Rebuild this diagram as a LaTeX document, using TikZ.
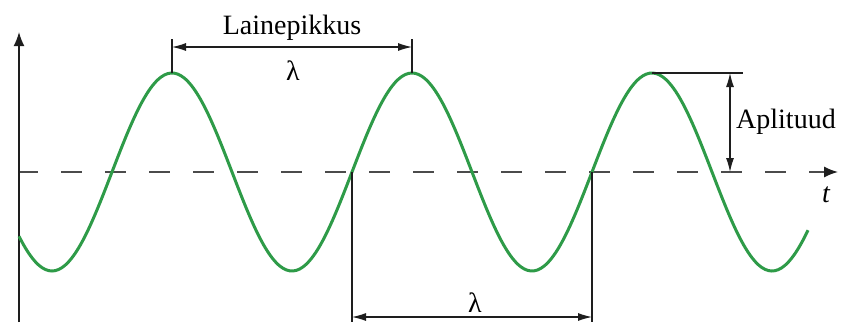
\documentclass[tikz,border=0pt]{standalone}
\usepackage{fontspec}
\setmainfont{Liberation Serif}
\usetikzlibrary{arrows.meta}

\definecolor{wavegreen}{RGB}{46,155,72}
\definecolor{axisgray}{RGB}{30,30,30}

\begin{document}
\begin{tikzpicture}[
    x = 1pt,
    y = -1pt,
    axis/.style = {
        draw       = axisgray,
        line width = 1.6pt,
        -{Latex[length=14pt, width=11pt]}
    },
    baseline/.style = {
        draw         = axisgray!80,
        line width   = 1.5pt,
        dash pattern = on 21pt off 23pt,
        dash phase   = 2pt,
        -{Latex[length=14pt, width=11pt, color=axisgray]}
    },
    wave/.style = {
        draw       = wavegreen,
        line width = 3pt
    },
    dimline/.style = {
        draw       = axisgray,
        line width = 1.1pt
    },
    dimarrow/.style = {
        draw       = axisgray,
        line width = 1.1pt,
        {Latex[length=14pt, width=8pt]}-{Latex[length=14pt, width=8pt]}
    },
    lab/.style = {
        font   = \fontsize{28}{32}\selectfont,
        anchor = base,
        inner sep = 0pt
    }
]

\useasboundingbox (0,0) rectangle (843,322);

% ================================================================
%  TELJED
%  püsttelg x = 19 ;  ajatelg (katkendlik) y = 172
% ================================================================

\coordinate (o)    at (19, 322);
\coordinate (ytop) at (19, 32);
\coordinate (t0)   at (19, 172);
\coordinate (tend) at (838, 172);

\draw[baseline] (t0) -- (tend);
\draw[axis] (o) -- (ytop);

\node[lab, font=\fontsize{28}{32}\selectfont\itshape] (tlab) at (826, 202) {t};

% ================================================================
%  LAINE
%  periood 240 ; amplituud 99 ; tõus läbi nulli x = 352
% ================================================================

\draw[wave] plot[domain=19:808, samples=240, smooth]
    (\x, {172 - 99*sin(1.5*(\x - 352))});

% tipud ja nullkohad
\coordinate (peak1) at (172, 73);
\coordinate (peak2) at (412, 73);
\coordinate (peak3) at (652, 73);
\coordinate (zero1) at (352, 172);
\coordinate (zero2) at (592, 172);

% ================================================================
%  LAINEPIKKUS ÜLAL (tipust tipuni)
% ================================================================

\coordinate (tick1) at (172, 39);
\coordinate (tick2) at (412, 39);
\coordinate (top1)  at (172, 47);
\coordinate (top2)  at (412, 47);

\draw[dimline] (peak1) -- (tick1);
\draw[dimline] (peak2) -- (tick2);
\draw[dimarrow] (top1) -- (top2);

\node[lab] (lainepikkus) at (292, 34) {Lainepikkus};
\node[lab] (lamtop)      at (293, 80) {λ};

% ================================================================
%  LAINEPIKKUS ALL (nullkohast nullkohani)
% ================================================================

\coordinate (foot1) at (352, 322);
\coordinate (foot2) at (592, 322);
\coordinate (bot1)  at (352, 317);
\coordinate (bot2)  at (592, 317);

\draw[dimline] (zero1) -- (foot1);
\draw[dimline] (zero2) -- (foot2);
\draw[dimarrow] (bot1) -- (bot2);

\node[lab] (lambot) at (475, 312) {λ};

% ================================================================
%  APLITUUD
% ================================================================

\coordinate (ampend) at (743, 73);
\coordinate (amptop) at (730, 73);
\coordinate (ampbot) at (730, 172);

\draw[dimline] (peak3) -- (ampend);
\draw[dimarrow] (amptop) -- (ampbot);

\node[lab, anchor=base west] (aplituud) at (736, 128) {Aplituud};

\end{tikzpicture}
\end{document}
